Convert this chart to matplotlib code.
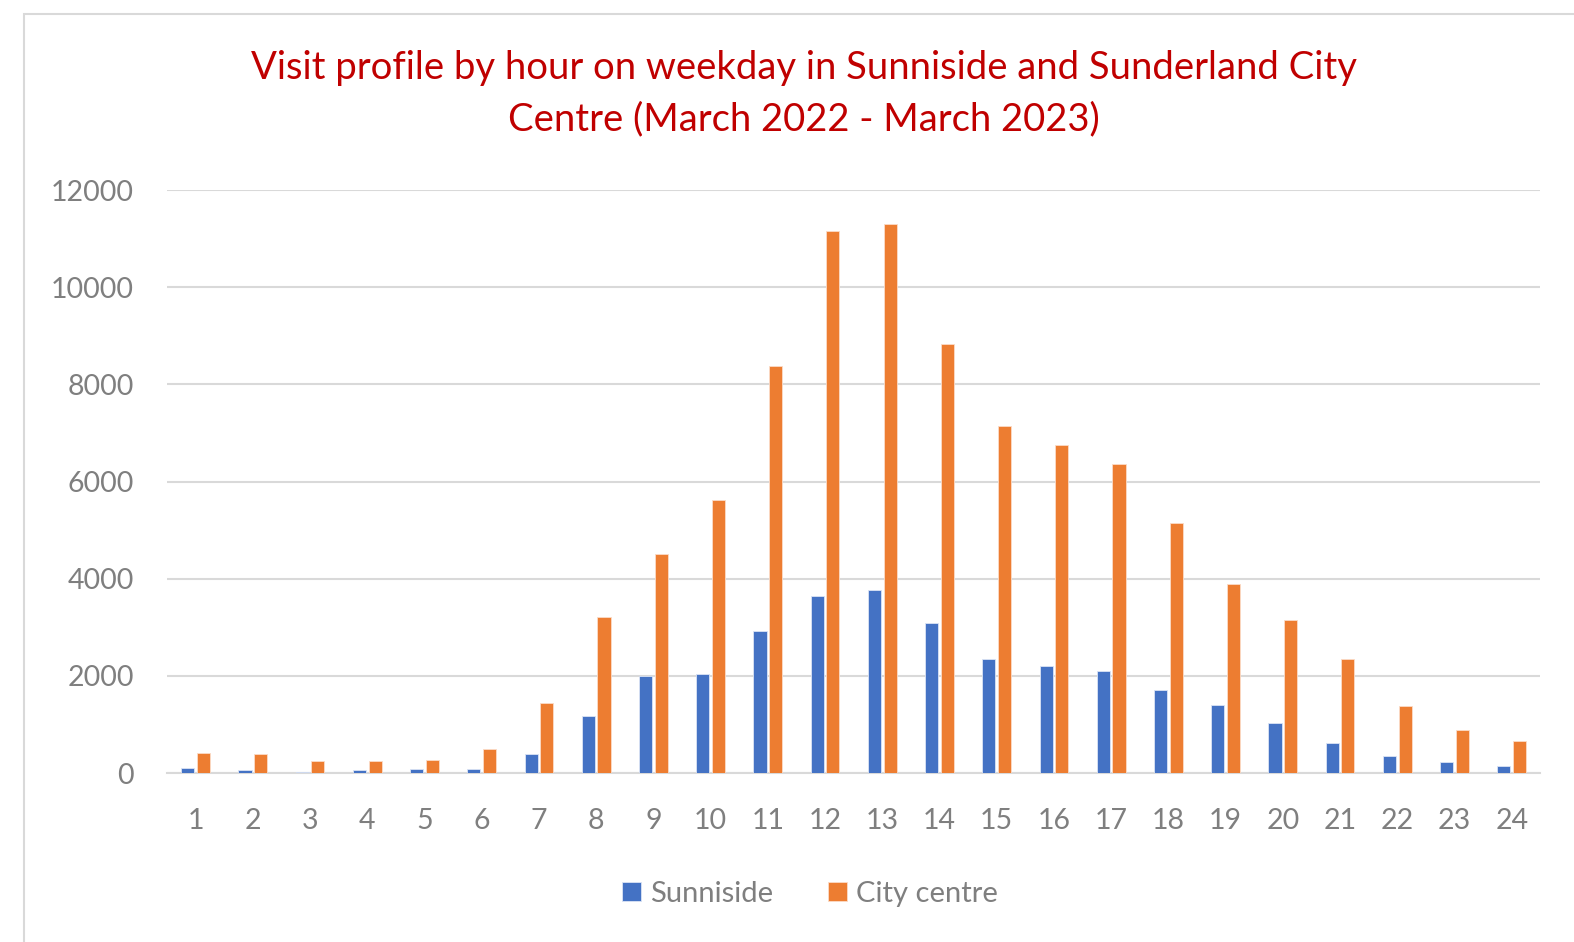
import numpy as np
import matplotlib.pyplot as plt
from matplotlib.patches import Rectangle

# Données
hours = list(range(1, 25))
sunniside = [100, 55, 30, 55, 80, 80, 400, 1180, 2000, 2030, 2930, 3650,
             3770, 3090, 2350, 2200, 2100, 1700, 1410, 1020, 610, 340, 230, 140]
city_centre = [420, 390, 240, 240, 260, 500, 1450, 3220, 4500, 5620, 8370, 11150,
               11300, 8820, 7150, 6750, 6350, 5150, 3900, 3150, 2340, 1370, 880, 650]
y_ticks = [0, 2000, 4000, 6000, 8000, 10000, 12000]

plt.rcParams['font.family'] = ['Lato', 'DejaVu Sans']

fig = plt.figure(figsize=(15.74, 9.42), dpi=100)
ax = fig.add_axes([0.1061, 0.1794, 0.8725, 0.6189])

# Cadre gris clair autour du graphique
fig.patches.append(Rectangle((24 / 1574, -0.1), 1.2, 1 - 14 / 942 + 0.1,
                             transform=fig.transFigure, fill=False,
                             edgecolor='#d9d9d9', linewidth=1.5))

x = np.array(hours)
w = 0.23
ax.bar(x - 0.137, sunniside, width=w, color='#4472C4', edgecolor='#dbe4f5',
       linewidth=0.6, label='Sunniside', zorder=3)
ax.bar(x + 0.137, city_centre, width=w, color='#ED7D31', edgecolor='#fbdcc8',
       linewidth=0.6, label='City centre', zorder=3)

ax.set_xlim(0.5, 24.5)
ax.set_ylim(0, 12000)
ax.set_yticks(y_ticks)
ax.set_xticks(hours)
ax.grid(axis='y', color='#d9d9d9', linewidth=1.5, zorder=0)
for s in ['top', 'right', 'left']:
    ax.spines[s].set_visible(False)
ax.spines['bottom'].set_color('#d9d9d9')
ax.spines['bottom'].set_linewidth(1.5)
ax.tick_params(axis='both', length=0, labelsize=20.5, colors='#7f7f7f')
ax.tick_params(axis='x', pad=25)
ax.tick_params(axis='y', pad=24)

fig.text(0.511, 1 - 68 / 942, 'Visit profile by hour on weekday in Sunniside and Sunderland City',
         ha='center', va='center', fontsize=27.5, color='#C00000')
fig.text(0.511, 1 - 119 / 942, 'Centre (March 2022 - March 2023)',
         ha='center', va='center', fontsize=27.5, color='#C00000')

fig.legend(loc='center', bbox_to_anchor=(810 / 1574, 1 - 894 / 942), ncol=2,
           frameon=False, fontsize=21, labelcolor='#7f7f7f', handlelength=0.65,
           handleheight=0.65, handletextpad=0.3, columnspacing=1.9)

fig.savefig('out.png', dpi=100)
